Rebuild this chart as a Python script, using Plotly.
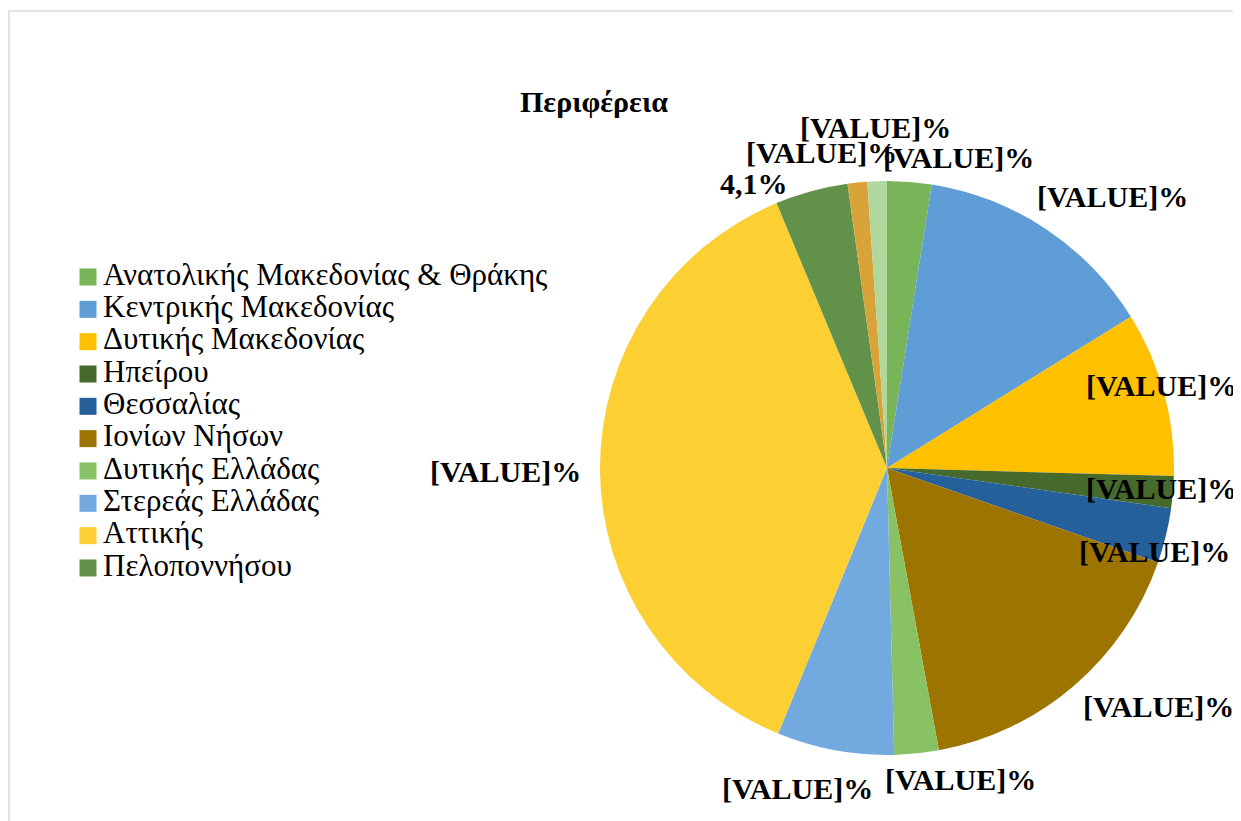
import math
import plotly.graph_objects as go

title_text = "Περιφέρεια"
regions = [
    "Ανατολικής Μακεδονίας & Θράκης",
    "Κεντρικής Μακεδονίας",
    "Δυτικής Μακεδονίας",
    "Ηπείρου",
    "Θεσσαλίας",
    "Ιονίων Νήσων",
    "Δυτικής Ελλάδας",
    "Στερεάς Ελλάδας",
    "Αττικής",
    "Πελοποννήσου",
    "Βορείου Αιγαίου",
    "Νοτίου Αιγαίου",
]
shares = [2.5, 13.7, 9.3, 1.8, 3.1, 16.8, 2.5, 6.6, 37.6, 4.1, 1.1, 1.1]
label_texts = ["[VALUE]%"] * 9 + ["4,1%", "[VALUE]%", "[VALUE]%"]
legend_count = 10
colors = [
    "#78B458", "#5F9DD6", "#FFC000", "#46692C", "#25609A", "#9E7400",
    "#88C264", "#72A9DF", "#FCCF33", "#629249", "#D8A43A", "#B1D89C",
]

# style: data-label placement (angle shift in degrees from the slice middle, radius factor)
label_shift = [8.4, 6.1, -1.6, -0.5, 3.7, -8.1, -7.4, 5.2, -0.4, -9.7, -5.8, 0.0]
label_rfac = [1.111, 1.230, 1.0, 0.96, 0.975, 1.258, 1.115, 1.160, 1.331, 1.094, 1.122, 1.188]

W, H = 1241, 821
OFF = 8  # page body margin in the browser


def px_x(p):
    return (p - OFF) / W


def px_y(p):
    return 1 - (p - OFF) / H


PIE_L, PIE_R, PIE_T, PIE_B = 600, 1174, 181, 755
CX, CY = (PIE_L + PIE_R) / 2, (PIE_T + PIE_B) / 2
RAD = (PIE_R - PIE_L) / 2

fig = go.Figure()

fig.add_trace(go.Pie(
    labels=regions,
    values=shares,
    textinfo="none",
    sort=False,
    direction="clockwise",
    rotation=0,
    marker=dict(colors=colors, line=dict(width=0)),
    showlegend=False,
    domain=dict(x=[px_x(PIE_L), px_x(PIE_R)], y=[px_y(PIE_B), px_y(PIE_T)]),
    hoverinfo="label+percent",
))

# data labels placed from the slice angles
total = sum(shares)
annotations = []
cum = 0.0
for val, txt, dshift, rf in zip(shares, label_texts, label_shift, label_rfac):
    mid = (cum + val / 2) / total * 360.0
    cum += val
    ang = math.radians(mid + dshift)
    lx = CX + rf * RAD * math.sin(ang)
    ly = CY - rf * RAD * math.cos(ang)
    annotations.append(dict(
        text="<b>" + txt + "</b>", x=px_x(lx), y=px_y(ly),
        xref="paper", yref="paper", showarrow=False,
        xanchor="center", yanchor="middle",
        font=dict(family="Liberation Serif", size=30, color="#000000"),
    ))

annotations.append(dict(
    text="<b>" + title_text + "</b>", x=px_x(594), y=px_y(102),
    xref="paper", yref="paper", showarrow=False,
    xanchor="center", yanchor="middle",
    font=dict(family="Liberation Serif", size=30, color="#000000"),
))

# legend drawn as a marker + text column on a hidden axis
leg_names = regions[:legend_count]
leg_cols = colors[:legend_count]
leg_idx = list(range(legend_count))
row_first, row_step = 277, 32.33
y_top = -(row_first - OFF) / row_step
y_bot = (H + OFF - row_first) / row_step

fig.add_trace(go.Scatter(
    x=[88 - OFF] * legend_count, y=leg_idx, mode="markers",
    marker=dict(symbol="square", size=17, color=leg_cols, line=dict(width=0)),
    showlegend=False, hoverinfo="skip",
))
fig.add_trace(go.Scatter(
    x=[103 - OFF] * legend_count, y=leg_idx, mode="text",
    text=leg_names, textposition="middle right",
    textfont=dict(family="Liberation Serif", size=31, color="#000000"),
    showlegend=False, hoverinfo="skip",
))

fig.update_layout(
    width=W, height=H,
    margin=dict(l=0, r=0, t=0, b=0, autoexpand=False),
    paper_bgcolor="white", plot_bgcolor="rgba(0,0,0,0)",
    xaxis=dict(visible=False, domain=[0, 0.47], range=[0, 0.47 * W], fixedrange=True),
    yaxis=dict(visible=False, domain=[0, 1], range=[y_bot, y_top], fixedrange=True),
    showlegend=False,
    annotations=annotations,
    shapes=[dict(
        type="rect", xref="paper", yref="paper",
        x0=px_x(9), x1=1.05, y0=-0.05, y1=px_y(11),
        line=dict(color="#D9D9D9", width=1.5), fillcolor="rgba(0,0,0,0)",
        layer="below",
    )],
)

fig.write_html("out.html")
